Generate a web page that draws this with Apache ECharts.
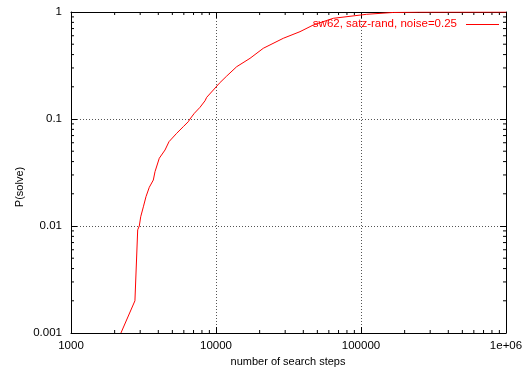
<!DOCTYPE html>
<html>
<head>
<meta charset="utf-8">
<script src="https://cdn.jsdelivr.net/npm/echarts@6/dist/echarts.min.js"></script>
<style>
  html, body { margin: 0; padding: 0; background: #fff; }
  #chart { width: 531px; height: 368px; }
</style>
</head>
<body>
<div id="chart"></div>
<script>
// run-length distribution
var steps = [2210, 2760, 2884, 2958, 3025, 3155, 3290, 3467, 3696, 3796, 4063, 4450, 4742, 5355,
    5951, 6440, 6618, 7088, 7757, 8398, 8628, 9585, 10540, 11850, 13880, 17160, 21190, 29120,
    37960, 46900, 64400, 109400, 167000, 250000, 1000000];
var probs = [0.001, 0.002, 0.0092, 0.010, 0.0122, 0.0151, 0.0188, 0.023, 0.0269, 0.0322, 0.043,
    0.0513, 0.0614, 0.0735, 0.0848, 0.0944, 0.1, 0.113, 0.1286, 0.148, 0.1595, 0.1866, 0.2157,
    0.252, 0.308, 0.369, 0.458, 0.568, 0.655, 0.756, 0.873, 0.952, 0.99, 0.998, 1];
var x_ticks = [1000, 10000, 100000, 1000000];
var x_tick_labels = ['1000', '10000', '100000', '1e+06'];
var y_ticks = [0.001, 0.01, 0.1, 1];
var y_tick_labels = ['0.001', '0.01', '0.1', '1'];
var series_name = 'sw62, satz-rand, noise=0.25';

var FONT = '"Liberation Sans", Arial, Helvetica, sans-serif';

var CHART = {
    init: function(){
        var _this = this;
        var myChart = echarts.init(document.getElementById('chart'), null, { width: 531, height: 368 });
        myChart.setOption(_this.build_option());
    },
    minor_values: function(majors){
        var out = [];
        for (var i = 0; i < majors.length - 1; i++){
            for (var m = 2; m <= 9; m++){
                out.push(majors[i] * m);
            }
        }
        return out;
    },
    label_of: function(ticks, labels){
        return function(v){
            for (var i = 0; i < ticks.length; i++){
                if (Math.abs(Math.log10(v) - Math.log10(ticks[i])) < 1e-6) return labels[i];
            }
            return '';
        };
    },
    build_option: function(){
        var _this = this;
        var line_data = steps.map(function(s, i){ return [s, probs[i]]; });
        var x_minor = _this.minor_values(x_ticks).map(function(v){ return [v, y_ticks[0]]; });
        var y_minor = _this.minor_values(y_ticks).map(function(v){ return [x_ticks[0], v]; });
        var xMin = x_ticks[0], xMax = x_ticks[x_ticks.length - 1];
        var yMin = y_ticks[0], yMax = y_ticks[y_ticks.length - 1];

        var dotted = { show: true, lineStyle: { color: '#555', type: [1, 2], width: 1 } };
        var frame = { show: true, onZero: false, lineStyle: { color: '#000', width: 1 } };

        return {
            animation: false,
            backgroundColor: '#fff',
            textStyle: { fontFamily: FONT },
            grid: { left: 71, top: 12, width: 435, height: 321, containLabel: false },
            xAxis: [
                {
                    type: 'log', logBase: 10, min: xMin, max: xMax, position: 'bottom',
                    axisLine: frame,
                    axisTick: { show: true, inside: true, length: 6, lineStyle: { color: '#000' } },
                    axisLabel: { fontFamily: FONT, fontSize: 11.5, color: '#000', margin: 7,
                        formatter: _this.label_of(x_ticks, x_tick_labels), showMinLabel: true, showMaxLabel: true },
                    splitLine: dotted
                },
                {
                    type: 'log', logBase: 10, min: xMin, max: xMax, position: 'top',
                    axisLine: frame,
                    axisTick: { show: true, inside: true, length: 6, lineStyle: { color: '#000' } },
                    axisLabel: { show: false },
                    splitLine: { show: false }
                }
            ],
            yAxis: [
                {
                    type: 'log', logBase: 10, min: yMin, max: yMax, position: 'left',
                    axisLine: frame,
                    axisTick: { show: true, inside: true, length: 6, lineStyle: { color: '#000' } },
                    axisLabel: { fontFamily: FONT, fontSize: 11.5, color: '#000', margin: 9,
                        formatter: _this.label_of(y_ticks, y_tick_labels), showMinLabel: true, showMaxLabel: true },
                    splitLine: dotted
                },
                {
                    type: 'log', logBase: 10, min: yMin, max: yMax, position: 'right',
                    axisLine: frame,
                    axisTick: { show: true, inside: true, length: 6, lineStyle: { color: '#000' } },
                    axisLabel: { show: false },
                    splitLine: { show: false }
                }
            ],
            graphic: [
                {
                    type: 'text', x: 20, y: 187, rotation: Math.PI / 2,
                    style: { text: 'P(solve)', fill: '#000', font: '11px ' + FONT,
                        textAlign: 'center', textVerticalAlign: 'middle' }
                },
                {
                    type: 'text', x: 288, y: 362,
                    style: { text: 'number of search steps', fill: '#000', font: '11px ' + FONT,
                        textAlign: 'center', textVerticalAlign: 'middle' }
                },
                {
                    type: 'text', x: 457, y: 24,
                    style: { text: series_name, fill: '#ff0000', font: '11.5px ' + FONT,
                        textAlign: 'right', textVerticalAlign: 'middle' }
                },
                {
                    type: 'line', shape: { x1: 466, y1: 24.5, x2: 499, y2: 24.5 },
                    style: { stroke: '#ff0000', lineWidth: 1 }
                }
            ],
            series: [
                {
                    name: series_name, type: 'line', data: line_data,
                    symbol: 'none', showSymbol: false, clip: true,
                    lineStyle: { color: '#ff0000', width: 1 },
                    z: 5
                },
                {
                    type: 'custom', data: x_minor, silent: true, clip: false,
                    renderItem: function(params, api){
                        var v = api.value(0);
                        var b = api.coord([v, yMin]);
                        var t = api.coord([v, yMax]);
                        var st = { stroke: '#000', lineWidth: 1 };
                        return { type: 'group', children: [
                            { type: 'line', shape: { x1: b[0], y1: b[1], x2: b[0], y2: b[1] - 3 }, style: st },
                            { type: 'line', shape: { x1: t[0], y1: t[1], x2: t[0], y2: t[1] + 3 }, style: st }
                        ] };
                    }
                },
                {
                    type: 'custom', data: y_minor, silent: true, clip: false,
                    renderItem: function(params, api){
                        var v = api.value(1);
                        var l = api.coord([xMin, v]);
                        var r = api.coord([xMax, v]);
                        var st = { stroke: '#000', lineWidth: 1 };
                        return { type: 'group', children: [
                            { type: 'line', shape: { x1: l[0], y1: l[1], x2: l[0] + 3, y2: l[1] }, style: st },
                            { type: 'line', shape: { x1: r[0], y1: r[1], x2: r[0] - 3, y2: r[1] }, style: st }
                        ] };
                    }
                }
            ]
        };
    }
};

CHART.init();
</script>
</body>
</html>
